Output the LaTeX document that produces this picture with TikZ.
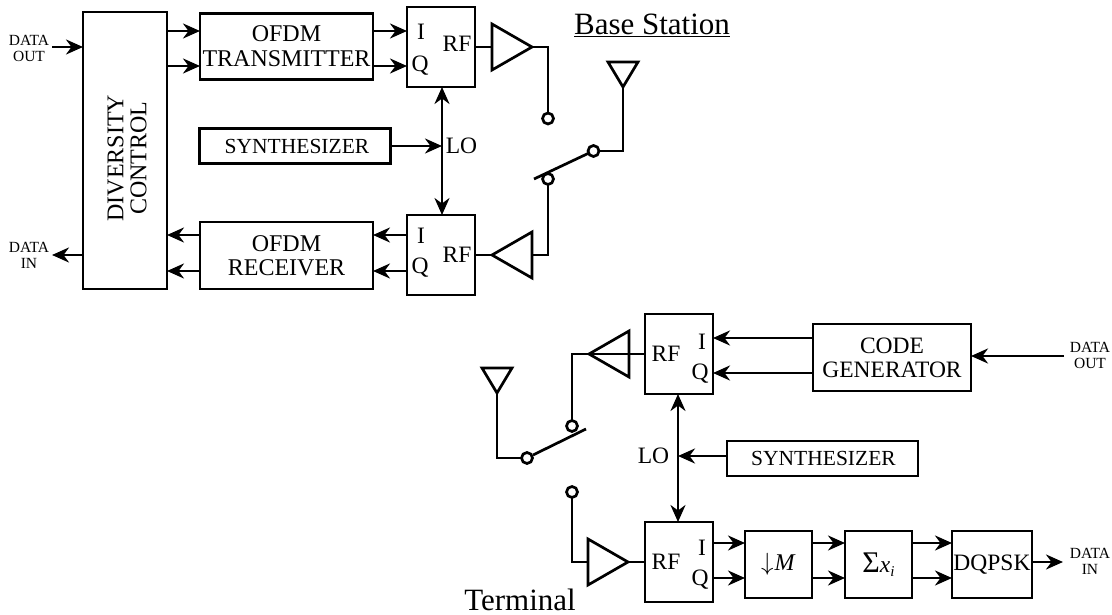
\documentclass[tikz,border=0pt]{standalone}
\usepackage{fontspec}
\setmainfont{Liberation Serif}
\usetikzlibrary{arrows.meta,shapes.geometric}
\newcommand{\fs}[1]{\fontsize{#1}{#1}\selectfont}
\tikzset{
  x=1pt,y=-1pt,
  wire/.style={line width=2.7pt,line join=miter},
  arr/.style={wire,-{Stealth[length=17pt,width=15pt,inset=5.5pt]}},
  darr/.style={wire,{Stealth[length=17pt,width=15pt,inset=5.5pt]}-{Stealth[length=17pt,width=15pt,inset=5.5pt]}},
  box/.style={draw,line width=2.7pt,rectangle,inner sep=0pt,outer sep=0pt,align=center,font=\fs{23.5}},
  lab/.style={inner sep=0pt,outer sep=0pt,font=\fs{23.5}},
  small/.style={inner sep=0pt,outer sep=0pt,align=center,font=\fontsize{15.5}{16}\selectfont},
  title/.style={inner sep=0pt,outer sep=0pt,font=\fs{31}},
  tri/.style={draw,line width=2.7pt,isosceles triangle,isosceles triangle stretches,inner sep=0pt,outer sep=0pt},
  amp/.style={tri,minimum width=46pt,minimum height=40pt},
  ant/.style={tri,minimum width=30pt,minimum height=25pt,shape border rotate=-90,anchor=apex},
  term/.style={draw,line width=2.7pt,circle,inner sep=0pt,outer sep=0pt,minimum size=11pt},
}
\begin{document}
\begin{tikzpicture}
\useasboundingbox (0,0) rectangle (1112,615);
% ---- base station
\node[box,minimum width=84pt,minimum height=277pt] (div) at (125,150.5) {};
\node[lab,rotate=90,align=center,font=\fontsize{24}{23}\selectfont] (divt) at (127,158) {DIVERSITY\\CONTROL};
\node[box,minimum width=173pt,minimum height=66pt,font=\fontsize{24}{25}\selectfont] (tx) at (286.5,46.5) {OFDM\\TRANSMITTER};
\node[box,minimum width=173pt,minimum height=67pt,font=\fontsize{24}{24}\selectfont] (rx) at (286.5,255.5) {OFDM\\RECEIVER};
\node[box,minimum width=190.5pt,minimum height=35pt,font=\fs{21.5}] (syn) at (295,146) {\hspace*{4pt}SYNTHESIZER};
\node[box,minimum width=68pt,minimum height=80pt] (m1) at (441,47) {};
\node[box,minimum width=68pt,minimum height=80pt] (m2) at (441,255) {};
\node[lab] (m1i) at (421,32) {I};
\node[lab] (m1q) at (420,66) {Q};
\node[lab] (m1r) at (457,44) {RF};
\node[lab] (m2i) at (421,236) {I};
\node[lab] (m2q) at (420,268) {Q};
\node[lab] (m2r) at (457,255) {RF};
\node[lab] (lo1) at (461.5,146) {LO};
\node[amp,anchor=apex] (a1) at (532,47) {};
\node[amp,anchor=apex,shape border rotate=180] (a2) at (492,255) {};
\node[term] (s1) at (548,118.5) {};
\node[term] (s2) at (548,179) {};
\node[term] (s3) at (593.5,151) {};
\node[ant] (an1) at (623,87) {};
\node[title] (bs) at (652,25) {\underline{Base Station}};
\node[small] (dout1) at (29,48) {DATA\\OUT};
\node[small] (din1) at (29,255) {DATA\\IN};
\coordinate (y1) at (0,31);
\coordinate (y2) at (0,66);
\coordinate (y3) at (0,235);
\coordinate (y4) at (0,271);
\coordinate (o1) at (52,47);
\coordinate (o2) at (52,255);
\coordinate (l1) at (442,146);
\coordinate (arma) at (534,179);
\coordinate (armb) at (588,153.5);
\draw[arr] (o1) -- (div.west |- o1);
\draw[arr] (div.west |- o2) -- (o2);
\draw[arr] (div.east |- y1) -- (tx.west |- y1);
\draw[arr] (div.east |- y2) -- (tx.west |- y2);
\draw[arr] (tx.east |- y1) -- (m1.west |- y1);
\draw[arr] (tx.east |- y2) -- (m1.west |- y2);
\draw[arr] (rx.west |- y3) -- (div.east |- y3);
\draw[arr] (rx.west |- y4) -- (div.east |- y4);
\draw[arr] (m2.west |- y3) -- (rx.east |- y3);
\draw[arr] (m2.west |- y4) -- (rx.east |- y4);
\draw[darr] (m1.south -| l1) -- (m2.north -| l1);
\draw[arr] (syn.east) -- (l1);
\draw[wire] (m1.east |- a1.apex) -- (a1.west |- a1.apex);
\draw[wire] (a1.apex) -| (s1.north);
\draw[wire] (m2.east |- a2.apex) -- (a2.apex);
\draw[wire] (a2.east |- a2.apex) -| (s2.south);
\draw[wire] (an1.apex) |- (s3.east);
\draw[wire] (arma) -- (armb);
% ---- terminal
\node[box,minimum width=68pt,minimum height=80pt] (m3) at (679,354) {};
\node[box,minimum width=68pt,minimum height=80pt] (m4) at (679,562) {};
\node[lab] (m3i) at (702,342) {I};
\node[lab] (m3q) at (700,374) {Q};
\node[lab] (m3r) at (666,354) {RF};
\node[lab] (m4i) at (702,548) {I};
\node[lab] (m4q) at (700,580) {Q};
\node[lab] (m4r) at (666,562) {RF};
\node[lab] (lo2) at (653.5,456) {LO};
\node[box,minimum width=158pt,minimum height=67pt,font=\fontsize{23.5}{24}\selectfont] (code) at (892,357.5) {CODE\\GENERATOR};
\node[box,minimum width=191pt,minimum height=35pt,font=\fs{21.5}] (syn2) at (822.5,458.5) {\hspace*{2pt}SYNTHESIZER};
\node[box,minimum width=67pt,minimum height=67pt] (dm) at (778.5,564.5) {\raisebox{-2pt}{\fs{30}$\downarrow$\kern1pt\fs{24}\textit{M}}};
\node[box,minimum width=67pt,minimum height=67pt] (sx) at (878.5,564.5) {\raisebox{-2pt}{{\fs{30}Σ}\textit{x}\raisebox{-4pt}{\fs{15}\textit{i}}}};
\node[box,minimum width=80pt,minimum height=67pt] (dq) at (992,564.5) {DQPSK};
\node[amp,anchor=apex,shape border rotate=180] (a3) at (589,354) {};
\node[amp,anchor=apex] (a4) at (628,562) {};
\node[term] (s4) at (572,426) {};
\node[term] (s5) at (572,492) {};
\node[term] (s6) at (527,458) {};
\node[ant] (an2) at (497,393) {};
\node[title] (tm) at (520,600) {Terminal};
\node[small] (dout2) at (1090,355) {DATA\\OUT};
\node[small] (din2) at (1090,561) {DATA\\IN};
\coordinate (y7) at (0,338);
\coordinate (y8) at (0,373);
\coordinate (y9) at (0,543);
\coordinate (y10) at (0,578);
\coordinate (l2) at (678,456);
\coordinate (o3) at (1064,356);
\coordinate (o4) at (1063,562);
\coordinate (armc) at (533,455);
\coordinate (armd) at (586,429);
\draw[arr] (code.west |- y7) -- (m3.east |- y7);
\draw[arr] (code.west |- y8) -- (m3.east |- y8);
\draw[arr] (o3) -- (code.east |- o3);
\draw[darr] (m3.south -| l2) -- (m4.north -| l2);
\draw[arr] (syn2.west |- l2) -- (l2);
\draw[arr] (m4.east |- y9) -- (dm.west |- y9);
\draw[arr] (m4.east |- y10) -- (dm.west |- y10);
\draw[arr] (dm.east |- y9) -- (sx.west |- y9);
\draw[arr] (dm.east |- y10) -- (sx.west |- y10);
\draw[arr] (sx.east |- y9) -- (dq.west |- y9);
\draw[arr] (sx.east |- y10) -- (dq.west |- y10);
\draw[arr] (dq.east |- o4) -- (o4);
\draw[wire] (m3.west |- a3.apex) -- (a3.west |- a3.apex);
\draw[wire] (a3.apex) -| (s4.north);
\draw[wire] (m4.west |- a4.apex) -- (a4.apex);
\draw[wire] (a4.west |- a4.apex) -| (s5.south);
\draw[wire] (an2.apex) |- (s6.west);
\draw[wire] (armc) -- (armd);
\end{tikzpicture}
\end{document}
